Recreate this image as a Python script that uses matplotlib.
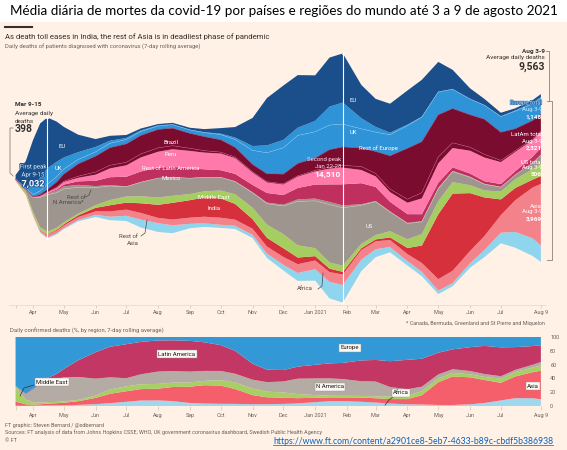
import numpy as np
import pandas as pd
import matplotlib
matplotlib.use('Agg')
import matplotlib.pyplot as plt
from matplotlib.patches import Rectangle
from matplotlib.lines import Line2D
import matplotlib.patheffects as pe

plt.rcParams['font.family'] = ['Roboto', 'DejaVu Sans']

# ---- data: 7-day rolling average daily deaths (week ending on date) ----
dates = pd.to_datetime([
    '2020-03-15', '2020-03-25', '2020-04-01', '2020-04-08', '2020-04-15', '2020-04-24',
    '2020-05-01', '2020-05-15',
    '2020-06-01', '2020-06-15', '2020-07-01', '2020-07-15', '2020-08-01', '2020-08-15',
    '2020-09-01', '2020-09-15', '2020-10-01', '2020-10-15', '2020-11-01', '2020-11-15',
    '2020-12-01', '2020-12-15', '2021-01-01', '2021-01-15', '2021-01-28', '2021-02-15',
    '2021-03-01', '2021-03-15', '2021-04-01', '2021-04-15', '2021-05-01', '2021-05-15',
    '2021-06-01', '2021-06-15', '2021-07-01', '2021-07-15', '2021-08-01', '2021-08-09'])

eu = [230, 1500, 2700, 3100, 2900, 2300, 1750, 1000, 450, 280, 170, 110, 80, 90, 110, 180, 320, 600, 1600, 2700,
      3100, 3000, 2600, 2800, 2800, 1900, 1600, 1650, 1950, 2100, 1700, 1100, 600, 350, 200, 120, 140, 170]
uk = [1, 60, 400, 750, 900, 850, 650, 420, 280, 150, 90, 60, 30, 15, 10, 20, 50, 110, 250, 420,
      450, 440, 620, 1050, 1230, 600, 300, 120, 50, 30, 15, 10, 8, 10, 15, 45, 75, 85]
rest_europe = [4, 40, 120, 200, 300, 300, 300, 250, 250, 250, 250, 230, 200, 200, 200, 230, 300, 450, 800, 1200,
               1500, 1600, 1500, 1400, 1300, 1100, 1100, 1200, 1300, 1400, 1300, 1100, 900, 800, 900, 1000, 950, 895]
brazil = [0, 5, 25, 80, 150, 300, 400, 700, 900, 1000, 1050, 1050, 1050, 1000, 850, 800, 700, 550, 420, 450,
          550, 700, 700, 1000, 1050, 1050, 1250, 1900, 2900, 2900, 2400, 1950, 1850, 2000, 1600, 1250, 1050, 950]
peru = [0, 0, 2, 5, 10, 25, 40, 90, 150, 180, 170, 200, 220, 200, 150, 110, 80, 60, 45, 40,
        40, 45, 55, 80, 130, 200, 170, 170, 200, 330, 370, 300, 200, 180, 100, 70, 60, 50]
rest_latam = [0, 5, 20, 40, 60, 100, 150, 200, 350, 500, 650, 800, 900, 1000, 1000, 950, 950, 900, 700, 600,
              600, 650, 750, 900, 950, 750, 600, 550, 650, 900, 1100, 1100, 1300, 1350, 1250, 1100, 950, 900]
mexico = [0, 1, 5, 15, 30, 60, 100, 200, 300, 450, 550, 600, 600, 600, 550, 450, 400, 420, 420, 550,
          550, 650, 800, 1000, 1200, 1200, 800, 550, 500, 400, 300, 200, 180, 150, 160, 200, 350, 420]
rest_namerica = [0, 3, 10, 30, 60, 120, 150, 140, 90, 50, 25, 10, 5, 5, 5, 5, 10, 20, 30, 55,
                 80, 115, 130, 150, 140, 60, 40, 30, 30, 35, 50, 45, 35, 25, 15, 8, 7, 8]
us = [5, 150, 800, 1700, 2100, 2000, 1900, 1500, 1000, 800, 550, 800, 1100, 1050, 900, 800, 750, 720, 850, 1200,
      1600, 2500, 2700, 3300, 3300, 2200, 1900, 1100, 900, 700, 700, 600, 450, 350, 250, 250, 350, 500]
middle_east = [70, 130, 150, 150, 150, 120, 110, 100, 150, 300, 350, 400, 420, 400, 350, 350, 450, 550, 650, 750,
               800, 700, 450, 350, 350, 250, 250, 350, 500, 650, 750, 650, 450, 400, 450, 500, 600, 700]
india = [0, 2, 5, 15, 30, 50, 70, 100, 200, 350, 400, 550, 750, 950, 1000, 1100, 1100, 900, 550, 500,
         500, 380, 250, 200, 150, 100, 110, 150, 350, 1000, 3700, 4400, 3300, 2200, 900, 700, 450, 450]
rest_asia = [20, 40, 60, 100, 150, 150, 150, 160, 200, 300, 350, 380, 300, 330, 350, 380, 400, 350, 350, 400,
             450, 500, 500, 550, 600, 550, 450, 400, 400, 500, 650, 700, 700, 800, 1000, 1800, 2900, 3500]
africa = [1, 5, 20, 40, 60, 60, 60, 80, 120, 200, 300, 450, 500, 450, 250, 200, 180, 180, 180, 250,
          320, 450, 650, 950, 1000, 650, 450, 300, 250, 250, 200, 180, 250, 400, 600, 900, 1000, 940]

tick_dates = pd.to_datetime(['2020-03-15', '2020-04-01', '2020-05-01', '2020-06-01', '2020-07-01',
                             '2020-08-01', '2020-09-01', '2020-10-01', '2020-11-01', '2020-12-01',
                             '2021-01-01', '2021-02-01', '2021-03-01', '2021-04-01', '2021-05-01',
                             '2021-06-01', '2021-07-01', '2021-08-09'])
tick_labels = ['', 'Apr', 'May', 'Jun', 'Jul', 'Aug', 'Sep', 'Oct', 'Nov', 'Dec', 'Jan 2021',
               'Feb', 'Mar', 'Apr', 'May', 'Jun', 'Jul', 'Aug 9']

BG = '#FFF1E5'
DARK = '#33302E'
GREY = '#66605C'
W, H = 567, 450


def put(x, y, s, **kw):
    kw.setdefault('va', 'center')
    kw.setdefault('ha', 'left')
    return fig.text(x / W, 1 - y / H, s, **kw)


fig = plt.figure(figsize=(W / 100, H / 100), dpi=100)
fig.patches.append(Rectangle((0, 0), 1, 1 - 22 / H, transform=fig.transFigure,
                             facecolor=BG, edgecolor='none', zorder=-10))

# ---- streamgraph ----
stack = [africa, rest_asia, india, middle_east, us, rest_namerica, mexico,
         rest_latam, peru, brazil, rest_europe, uk, eu]
stack_cols = ['#8fd5ee', '#f3828b', '#d7303d', '#a6cd5f', '#9d958e', '#9d958e', '#c0305e',
              '#ff7aab', '#7a0c30', '#7a0c30', '#2f93d8', '#2f93d8', '#1b4f8c']

ax = fig.add_axes([9.4 / W, 1 - 305 / H, (546 - 9.4) / W, (305 - 40) / H])
ax.set_facecolor('none')
ax.stackplot(dates, stack, colors=stack_cols, baseline='sym', linewidth=0)
scale = 57.0
ax.set_ylim(-(305 - 178) * scale, (178 - 40) * scale)
ax.set_xlim(pd.Timestamp('2020-03-09'), pd.Timestamp('2021-08-14'))

vals = np.array(stack, dtype=float)
total = vals.sum(0)
edges = np.cumsum(vals, 0) - total / 2
# thin separators inside colour groups
for i, c in [(4, '#c9c2ba'), (8, '#c04a78'), (10, '#7fc2ee'), (9, '#9a2c52')]:
    ax.plot(dates, edges[i], color=c, lw=0.35)

# white lines at the two peaks
for d in ['2020-04-15', '2021-01-28']:
    k = list(dates).index(pd.Timestamp(d))
    ax.vlines(dates[k], -total[k] / 2, total[k] / 2, color='white', lw=0.8)
    ax.plot([dates[k]], [total[k] / 2], marker='^', ms=2.2, color='white', mew=0)
    ax.plot([dates[k]], [-total[k] / 2], marker='v', ms=2.2, color='white', mew=0)

ax.set_yticks([])
ax.set_xticks(tick_dates)
ax.set_xticklabels(tick_labels)
ax.tick_params(axis='x', length=2, width=0.5, color='#cfc4b9', labelsize=4, labelcolor=GREY, pad=1.5)
for s in ['top', 'left', 'right']:
    ax.spines[s].set_visible(False)
ax.spines['bottom'].set_color('#e3d8cd')
ax.spines['bottom'].set_linewidth(0.5)

# ---- 100% chart ----
europe_tot = vals[10] + vals[11] + vals[12]
latam_tot = vals[6] + vals[7] + vals[8] + vals[9]
nam_tot = vals[4] + vals[5]
me_tot = vals[3]
asia_tot = vals[1] + vals[2]
africa_tot = vals[0]
shares = np.array([africa_tot, asia_tot, me_tot, nam_tot, latam_tot, europe_tot]) / total * 100
share_cols = ['#9fd7ec', '#f45f6b', '#a8cf63', '#b4aca4', '#c23764', '#3399d6']

ax2 = fig.add_axes([9.4 / W, 1 - 406 / H, (546 - 9.4) / W, 69 / H])
ax2.set_facecolor('none')
ax2.stackplot(dates, shares, colors=share_cols, linewidth=0)
ax2.set_xlim(ax.get_xlim())
ax2.set_ylim(0, 100)
ax2.yaxis.tick_right()
ax2.set_yticks([0, 20, 40, 60, 80, 100])
ax2.tick_params(axis='y', length=0, labelsize=4, labelcolor=GREY, pad=3)
ax2.set_xticks(tick_dates)
ax2.set_xticklabels(tick_labels)
ax2.tick_params(axis='x', length=3, width=0.5, color='#cfc4b9', labelsize=4, labelcolor=GREY, pad=2)
for s in ax2.spines.values():
    s.set_visible(False)

# ---- texts ----
put(284, 11, 'Média diária de mortes da covid-19 por países e regiões do mundo até 3 a 9 de agosto 2021',
    ha='center', fontsize=9.7, family='Lato', color='black')
fig.add_artist(Line2D([5 / W, 32 / W], [1 - 27 / H] * 2, color=DARK, lw=1.5))
put(5, 37, 'As death toll eases in India, the rest of Asia is in deadliest phase of pandemic',
    fontsize=5.6, color=DARK)
put(5, 47, 'Daily deaths of patients diagnosed with coronavirus (7-day rolling average)',
    fontsize=4.2, color=GREY)

put(15, 105, 'Mar 9-15', fontsize=4.6, weight='bold', color=DARK)
put(15, 113, 'Average daily', fontsize=4.6, color=DARK)
put(15, 121, 'deaths', fontsize=4.6, color=DARK)
put(15, 129, '398', fontsize=7.5, weight='bold', color=DARK)
fig.add_artist(Line2D(np.array([13, 10, 10, 13]) / W, 1 - np.array([128, 128, 173, 176]) / H,
                      color='#8a837d', lw=0.6))

blue_fx = [pe.withStroke(linewidth=1.2, foreground='#1b4f8c')]
put(33, 167, 'First peak', ha='center', fontsize=4.4, color='#dcecf8', path_effects=blue_fx)
put(33, 175, 'Apr 9-15', ha='center', fontsize=4.4, color='#dcecf8', path_effects=blue_fx)
put(33, 184, '7,032', ha='center', fontsize=6.5, weight='bold', color='white', path_effects=blue_fx)

wt = dict(fontsize=4.3, color='white', ha='center')
put(62, 147, 'EU', **wt)
put(58, 169, 'UK', **wt)
put(171, 143, 'Brazil', **wt)
put(171, 155, 'Peru', **wt)
put(171, 168, 'Rest of Latin America', **wt)
put(171, 179, 'Mexico', **wt)
put(214, 197, 'Middle East', **wt)
put(214, 208, 'India', **wt)
put(353, 101, 'EU', **wt)
put(353, 132, 'UK', **wt)
put(378, 148, 'Rest of Europe', **wt)
put(369, 227, 'US', **wt)

dk = dict(fontsize=4.3, color='#4d4845', ha='center')
put(76, 197, 'Rest of', **dk)
put(68, 203, 'N America*', **dk)
put(128, 236, 'Rest of', **dk)
put(133, 243, 'Asia', **dk)
put(305, 289, 'Africa', **dk)
for xs, ys in [([86, 89, 91], [197, 195, 190]), ([141, 145, 147], [236, 233, 220]),
               ([318, 322, 323], [289, 286, 273])]:
    fig.add_artist(Line2D(np.array(xs) / W, 1 - np.array(ys) / H, color='#4d4845', lw=0.5))

put(341, 159, 'Second peak', ha='right', fontsize=4.3, color='#ffd6e4')
put(341, 167, 'Jan 22-28', ha='right', fontsize=4.3, color='#ffd6e4')
put(341, 175, '14,510', ha='right', fontsize=6, weight='bold', color='white')

put(545, 51, 'Aug 3-9', ha='right', fontsize=4.6, weight='bold', color=DARK)
put(545, 58, 'Average daily deaths', ha='right', fontsize=4.6, color=DARK)
put(545, 67, '9,563', ha='right', fontsize=7.5, weight='bold', color=DARK)
fig.add_artist(Line2D(np.array([546, 549, 549]) / W, 1 - np.array([51, 51, 101]) / H,
                      color='#8a837d', lw=0.6))
fig.add_artist(Line2D(np.array([547, 552, 552, 547]) / W, 1 - np.array([101, 101, 260, 260]) / H,
                      color='#8a837d', lw=0.6))

rt = dict(ha='right', fontsize=4.3, color='white')
put(542, 103, 'Europe total', ha='right', fontsize=4.3, color='#9fd0f0',
    path_effects=[pe.withStroke(linewidth=0.8, foreground='#2f6fb0')])
put(542, 110, 'Aug 3-9', ha='right', fontsize=4.3, color='#cfe6f7')
put(542, 117, '1,148', ha='right', fontsize=4.6, weight='bold', color='white')
put(542, 135, 'LatAm total', **rt)
put(542, 142, 'Aug 3-9', **rt)
put(542, 148, '2,321', ha='right', fontsize=4.6, weight='bold', color='white')
put(542, 162, 'US total', **rt)
put(542, 168, 'Aug 3-9', **rt)
put(542, 175, '506', ha='right', fontsize=4.6, weight='bold', color='white')
put(542, 206, 'Asia', **rt)
put(542, 212, 'Aug 3-9', **rt)
put(542, 219, '3,969', ha='right', fontsize=4.6, weight='bold', color='white')

put(545, 323, '* Canada, Bermuda, Greenland and St Pierre and Miquelon', ha='right', fontsize=3.9, color=GREY)
put(10, 331, 'Daily confirmed deaths (%, by region, 7-day rolling average)', fontsize=4.2, color=GREY)

box = dict(boxstyle='square,pad=0.25', fc='#fbf8f4', ec='#9a948f', lw=0.3)
for x, y, s in [(177, 354, 'Latin America'), (350, 348, 'Europe'), (52, 382, 'Middle East'),
                (330, 387, 'N America'), (401, 393, 'Africa'), (533, 386, 'Asia')]:
    put(x, y, s, ha='center', fontsize=4.3, color='#1a1817', bbox=box)
for xs, ys in [([20, 24, 34], [396, 388, 385]), ([385, 389, 393], [405, 400, 397])]:
    fig.add_artist(Line2D(np.array(xs) / W, 1 - np.array(ys) / H, color='#33302e', lw=0.5))

put(5, 425, 'FT graphic: Steven Bernard / @sdbernard', fontsize=3.9, color=GREY)
put(5, 432, 'Sources: FT analysis of data from Johns Hopkins CSSE, WHO, UK government coronavirus dashboard, '
    'Swedish Public Health Agency', fontsize=3.9, color=GREY)
put(5, 440, '© FT', fontsize=3.9, color=GREY)
url = put(553, 441, 'https://www.ft.com/content/a2901ce8-5eb7-4633-b89c-cbdf5b386938',
          ha='right', fontsize=6.2, family='Lato', color='#0563C1')
fig.canvas.draw()
bb = url.get_window_extent().transformed(fig.transFigure.inverted())
fig.add_artist(Line2D([bb.x0, bb.x1], [bb.y0 + 0.002] * 2, color='#0563C1', lw=0.5))

fig.savefig('out.png', dpi=100, facecolor='white')
